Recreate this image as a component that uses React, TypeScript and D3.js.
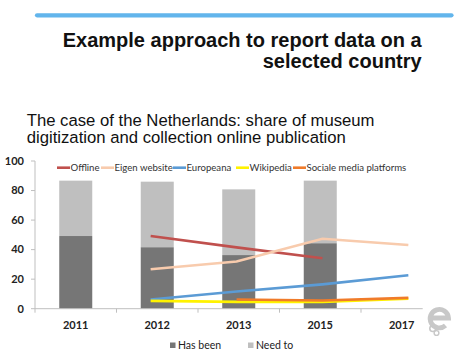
import React from "react";
import * as d3 from "d3";

const years = ["2011", "2012", "2013", "2015", "2017"];
const hasBeen = [49.2, 41.6, 36.3, 44.3, null];
const needTo = [37.5, 44.4, 44.5, 42.4, null];

const lineYears = ["2012", "2013", "2015", "2017"];
const offline = [49.2, 41.5, 34.2, null];
const eigenWebsite = [26.7, 32.0, 47.4, 43.1];
const europeana = [6.2, 11.6, 16.5, 22.6];
const wikipedia = [5.3, 4.6, 4.6, 6.8];
const socialeMedia = [null, 6.2, 5.6, 7.3];

const yTicks = [0, 20, 40, 60, 80, 100];

const lineSeries = [
  { name: "Offline", values: offline, color: "#C0504D" },
  { name: "Eigen website", values: eigenWebsite, color: "#F8CBAD" },
  { name: "Europeana", values: europeana, color: "#5B9BD5" },
  { name: "Wikipedia", values: wikipedia, color: "#FFF200" },
  { name: "Sociale media platforms", values: socialeMedia, color: "#F07B2A" },
];

const legendX = [57, 101, 173, 236, 293];

const W = 460;
const H = 357;
const chartFont = "Lato, 'Open Sans', sans-serif";

export default function App() {
  const x = d3.scaleBand<string>().domain(years).range([35, 442.5]);
  const y = d3.scaleLinear().domain([0, 100]).range([308.7, 161]);
  const barW = x.bandwidth() * 0.405;
  const center = (yr: string) => (x(yr) as number) + x.bandwidth() / 2;
  const xl = d3
    .scalePoint<string>()
    .domain(lineYears)
    .range([center("2012") - 6.6, center("2017") + 6.6]);

  const lineGen = d3
    .line<number | null>()
    .defined((d) => d !== null)
    .x((_, i) => xl(lineYears[i]) as number)
    .y((d) => y(d as number))
    .curve(d3.curveLinear);

  const bandEdges = years.map((yr) => x(yr) as number);

  return (
    <svg width={W} height={H} style={{ position: "absolute", left: 0, top: 0, background: "#fff" }}>
      {/* header bar */}
      <line x1={37} x2={451.5} y1={15.3} y2={15.3} stroke="#62B5EC" strokeWidth={4.2} strokeLinecap="round" />
      <text x={421.7} y={46.5} textAnchor="end" fontFamily="'Liberation Sans', Arial, sans-serif" fontWeight="bold" fontSize={20} fill="#111">
        Example approach to report data on a
      </text>
      <text x={421.7} y={68.3} textAnchor="end" fontFamily="'Liberation Sans', Arial, sans-serif" fontWeight="bold" fontSize={20} fill="#111">
        selected country
      </text>
      <text x={26.7} y={126.3} fontFamily="'Liberation Sans', Arial, sans-serif" fontSize={16.7} fill="#111">
        The case of the Netherlands: share of museum
      </text>
      <text x={26.7} y={142.8} fontFamily="'Liberation Sans', Arial, sans-serif" fontSize={16.7} fill="#111">
        digitization and collection online publication
      </text>

      {/* bars */}
      {years.map((yr, i) =>
        hasBeen[i] === null ? null : (
          <g key={yr}>
            <rect
              x={center(yr) - barW / 2}
              y={y((hasBeen[i] as number) + (needTo[i] as number))}
              width={barW}
              height={y(hasBeen[i] as number) - y((hasBeen[i] as number) + (needTo[i] as number))}
              fill="#BFBFBF"
            />
            <rect
              x={center(yr) - barW / 2}
              y={y(hasBeen[i] as number)}
              width={barW}
              height={y(0) - y(hasBeen[i] as number)}
              fill="#767676"
            />
          </g>
        )
      )}

      {/* axes */}
      <line x1={35} x2={35} y1={y(100)} y2={y(0)} stroke="#BFBFBF" strokeWidth={1} />
      {yTicks.map((t) => (
        <g key={t}>
          <line x1={31} x2={35} y1={y(t)} y2={y(t)} stroke="#BFBFBF" strokeWidth={1} />
          <text x={24} y={y(t)} dy="0.35em" textAnchor="end" fontFamily={chartFont} fontWeight="bold" fontSize={11} fill="#222">
            {t}
          </text>
        </g>
      ))}
      <line x1={35} x2={422.7} y1={y(0)} y2={y(0)} stroke="#BFBFBF" strokeWidth={1} />
      {bandEdges.map((e, i) => (
        <line key={i} x1={e} x2={e} y1={y(0)} y2={y(0) + 4} stroke="#BFBFBF" strokeWidth={1} />
      ))}
      {years.map((yr) => (
        <text key={yr} x={center(yr)} y={329} textAnchor="middle" fontFamily={chartFont} fontWeight="bold" fontSize={11} fill="#222">
          {yr}
        </text>
      ))}

      {/* lines */}
      {lineSeries.map((s) => (
        <path key={s.name} d={lineGen(s.values) || ""} fill="none" stroke={s.color} strokeWidth={2.6} />
      ))}

      {/* top legend */}
      {lineSeries.map((s, i) => (
        <g key={s.name} transform={`translate(${legendX[i]},167.7)`}>
          <line x1={0} x2={13} y1={0} y2={0} stroke={s.color} strokeWidth={2.6} />
          <text x={13.5} y={0} dy="0.35em" fontFamily={chartFont} fontSize={9.6} fill="#333">
            {s.name}
          </text>
        </g>
      ))}

      {/* bottom legend */}
      <rect x={170} y={342.5} width={5.5} height={5.5} fill="#767676" />
      <text x={178} y={345.3} dy="0.35em" fontFamily={chartFont} fontSize={10.5} fill="#222">Has been</text>
      <rect x={248} y={342.5} width={5.5} height={5.5} fill="#BFBFBF" />
      <text x={256} y={345.3} dy="0.35em" fontFamily={chartFont} fontSize={10.5} fill="#222">Need to</text>

      {/* logo */}
      <g fill="none" stroke="#C8C8C8">
        <path d="M 430 318 L 448.5 318 A 9.2 9.2 0 1 0 445.5 325.5" strokeWidth={4.8} />
        <circle cx={432.8} cy={328.5} r={3} strokeWidth={1.6} />
        <circle cx={436.5} cy={333} r={2.4} strokeWidth={1.4} />
      </g>
    </svg>
  );
}
